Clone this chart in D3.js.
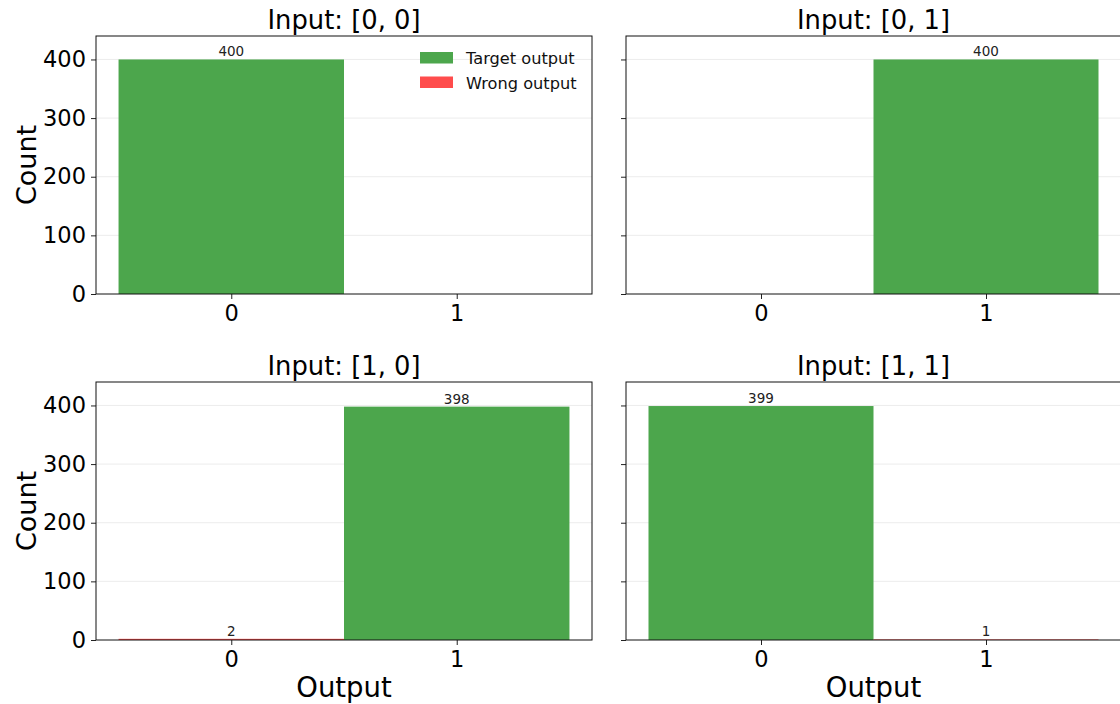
<!DOCTYPE html>
<html>
<head>
<meta charset="utf-8">
<script src="https://cdn.jsdelivr.net/npm/d3@7"></script>
<style>
  html, body { margin: 0; padding: 0; background: #fff; }
  svg { display: block; font-family: "DejaVu Sans", sans-serif; }
</style>
</head>
<body>
<svg id="chart" width="1120" height="704"></svg>
<script>
// Measurement counts per input pair (XOR classifier test, 400 shots each)
const inputs = ["[0, 0]", "[0, 1]", "[1, 0]", "[1, 1]"];
const outputs = [0, 1];
const targetOutput = [0, 1, 1, 0];
const countsOutput0 = [400, 0, 2, 399];
const countsOutput1 = [0, 400, 398, 1];
const yTicks = [0, 100, 200, 300, 400];
const legendLabels = ["Target output", "Wrong output"];

const GREEN = "#4ca64c";
const RED = "#ff4c4c";

const svg = d3.select("#chart");

// panel frames: [left, right] and [top, bottom]
const cols = [[96, 592], [626, 1121]];
const rows = [[36, 294], [382, 640]];

inputs.forEach((inp, p) => {
  const col = p % 2, row = Math.floor(p / 2);
  const [x0, x1] = cols[col];
  const [y0, y1] = rows[row];
  const counts = [countsOutput0[p], countsOutput1[p]];

  const x = d3.scaleLinear().domain([-0.6, 1.6]).range([x0, x1]);
  const y = d3.scaleLinear().domain([0, 440]).range([y1, y0]);

  const g = svg.append("g");

  // horizontal grid
  g.append("g").selectAll("line").data(yTicks.slice(1)).join("line")
    .attr("x1", x0).attr("x2", x1)
    .attr("y1", d => y(d)).attr("y2", d => y(d))
    .attr("stroke", "#b0b0b0").attr("stroke-opacity", 0.3).attr("stroke-width", 0.8);

  // bars
  const barData = outputs.map(o => ({ o, v: counts[o], ok: o === targetOutput[p] }));
  g.append("g").selectAll("rect").data(barData).join("rect")
    .attr("x", d => x(d.o - 0.5))
    .attr("width", d => x(d.o + 0.5) - x(d.o - 0.5))
    .attr("y", d => y(d.v))
    .attr("height", d => y(0) - y(d.v))
    .attr("fill", d => d.ok ? GREEN : RED);

  // value labels on non-empty bars
  g.append("g").selectAll("text").data(barData.filter(d => d.v > 0)).join("text")
    .attr("x", d => x(d.o))
    .attr("y", d => y(d.v) - 3)
    .attr("text-anchor", "middle")
    .attr("font-size", "13.5px")
    .attr("fill", "#222")
    .text(d => d.v);

  // axes
  const xAxis = d3.axisBottom(x).tickValues(outputs).tickFormat(d3.format("d"))
    .tickSize(5).tickPadding(6);
  const gx = g.append("g").attr("transform", `translate(0,${y1})`).call(xAxis);
  gx.select(".domain").remove();
  gx.selectAll("text").attr("font-size", "22.5px").attr("fill", "#000")
    .style("font-family", "DejaVu Sans");
  gx.selectAll("line").attr("stroke", "#222");

  const yAxis = d3.axisLeft(y).tickValues(yTicks).tickSize(5).tickPadding(5)
    .tickFormat(col === 0 ? d3.format("d") : () => "");
  const gy = g.append("g").attr("transform", `translate(${x0},0)`).call(yAxis);
  gy.select(".domain").remove();
  gy.selectAll("text").attr("font-size", "22.5px").attr("fill", "#000")
    .style("font-family", "DejaVu Sans");
  gy.selectAll("line").attr("stroke", "#222");

  // frame
  g.append("rect")
    .attr("x", x0).attr("y", y0).attr("width", x1 - x0).attr("height", y1 - y0)
    .attr("fill", "none").attr("stroke", "#111").attr("stroke-width", 1);

  // title
  g.append("text")
    .attr("x", (x0 + x1) / 2).attr("y", y0 - 7)
    .attr("text-anchor", "middle").attr("font-size", "25.8px").attr("fill", "#000")
    .text(`Input: ${inp}`);

  if (col === 0) {
    g.append("text")
      .attr("transform", `translate(36,${(y0 + y1) / 2}) rotate(-90)`)
      .attr("text-anchor", "middle").attr("font-size", "27px").attr("fill", "#000")
      .text("Count");
  }
  if (row === 1) {
    g.append("text")
      .attr("x", (x0 + x1) / 2).attr("y", 697)
      .attr("text-anchor", "middle").attr("font-size", "27.5px").attr("fill", "#000")
      .text("Output");
  }

  // legend in first panel
  if (p === 0) {
    const lg = g.append("g").selectAll("g").data(legendLabels).join("g")
      .attr("transform", (d, i) => `translate(420,${52 + i * 24.5})`);
    lg.append("rect").attr("width", 33).attr("height", 11.5)
      .attr("fill", (d, i) => i === 0 ? GREEN : RED);
    lg.append("text").attr("x", 46).attr("y", 12)
      .attr("font-size", "16.2px").attr("fill", "#111").text(d => d);
  }
});
</script>
</body>
</html>
